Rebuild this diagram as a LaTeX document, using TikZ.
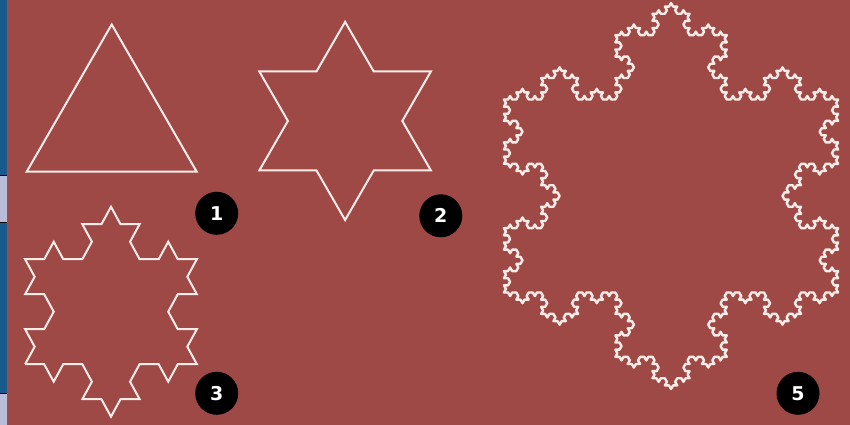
\documentclass[tikz,border=0pt]{standalone}
\usepackage{xcolor}
\usepackage{fontspec}
\newfontfamily\numfont{DejaVu Sans}
\usepackage{tikz}
\usetikzlibrary{lindenmayersystems}

\definecolor{bgred}{HTML}{9F4947}
\definecolor{stripblue}{HTML}{175A8E}
\definecolor{striplav}{HTML}{B9BDDA}
\definecolor{flakeline}{HTML}{FBECE8}

\pgfdeclarelindenmayersystem{Koch}{\rule{F -> F-F++F-F}}

\begin{document}
\begin{tikzpicture}[
    x=1pt, y=1pt,
    flake/.style={draw=flakeline, line width=#1},
    flake/.default=2pt,
    badge/.style={circle, fill=black, minimum size=43pt, inner sep=0pt, text=white, font=\numfont\bfseries\fontsize{19}{19}\selectfont},
]
    % Background
    \fill[bgred] (0,0) rectangle (850,425);
    \useasboundingbox (0,0) rectangle (850,425);

    % Left strip
    \fill[stripblue] (0,0) rectangle (7,425);
    \fill[striplav] (0,203) rectangle (7,250);
    \fill[striplav] (0,0) rectangle (7,32);
    \draw[black, line width=0.8pt] (0,250) -- (7,250) (0,203) -- (7,203) (0,32) -- (7,32);
    \draw[black!60, line width=0.5pt] (7.2,0) -- (7.2,425);

    % Iteration 0
    \begin{scope}[shift={(26.7,253.3)}]
    \draw[flake, lindenmayer system={Koch, axiom=F++F++F, order=0, step=170pt, angle=60}]
        lindenmayer system -- cycle;
    \end{scope}

    % Iteration 1
    \begin{scope}[shift={(259.3,254.5)}]
    \draw[flake, lindenmayer system={Koch, axiom=F++F++F, order=1, step=57.2pt, angle=60}]
        lindenmayer system -- cycle;
    \end{scope}

    % Iteration 2
    \begin{scope}[shift={(111,113.3)}, xscale=0.945, shift={(-90.93,-52.5)}]
    \draw[flake, lindenmayer system={Koch, axiom=F++F++F, order=2, step=20.2pt, angle=60}]
        lindenmayer system -- cycle;
    \end{scope}

    % Iteration 4
    \begin{scope}[shift={(503.9,132.5)}]
    \draw[flake=2.4pt, line join=round, lindenmayer system={Koch, axiom=F++F++F, order=4, step=4.127pt, angle=60}]
        lindenmayer system -- cycle;
    \end{scope}

    % Badges
    \node[badge] (one) at (216.7,211.7) {1};
    \node[badge] (two) at (440.8,209.2) {2};
    \node[badge] (three) at (216.7,31.7) {3};
    \node[badge] (five) at (798,31.7) {5};

\end{tikzpicture}
\end{document}
